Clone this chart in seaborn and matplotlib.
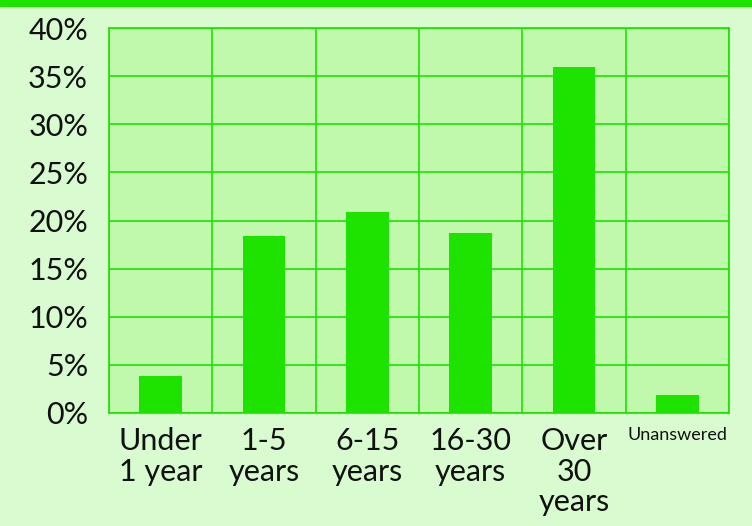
import matplotlib
matplotlib.use('Agg')
import matplotlib.pyplot as plt
import seaborn as sns
import pandas as pd
from matplotlib.patches import Rectangle

# Dados
categorias = ['Under\n1 year', '1-5\nyears', '6-15\nyears', '16-30\nyears', 'Over\n30\nyears', 'Unanswered']
valores = [3.8, 18.4, 20.9, 18.7, 35.9, 1.9]
yticks = [0, 5, 10, 15, 20, 25, 30, 35, 40]

df = pd.DataFrame({'cat': categorias, 'val': valores})

bg = '#d8fcd0'
area = '#c0f8ac'
verde = '#1ee200'

sns.set_style('white')
plt.rcParams['font.family'] = ['Lato', 'DejaVu Sans']

fig = plt.figure(figsize=(7.52, 5.26), dpi=100, facecolor=bg)
ax = fig.add_axes([109 / 752, 1 - 413 / 526, 620 / 752, 385 / 526])
ax.set_facecolor(area)

sns.barplot(data=df, x='cat', y='val', color=verde, width=0.41, saturation=1,
            linewidth=0, ax=ax, zorder=3)

ax.set_ylim(0, 40)
ax.set_xlim(-0.5, len(categorias) - 0.5)
ax.set_yticks(yticks)
ax.set_yticklabels([f'{v}%' for v in yticks], fontsize=22, color='#111111')
ax.set_xticks(range(len(categorias)))
ax.set_xticklabels(categorias, fontsize=22, color='#111111', linespacing=1.12, va='top')
ax.set_xticks([i - 0.5 for i in range(len(categorias) + 1)], minor=True)
ax.tick_params(axis='x', which='major', length=0, pad=10)
ax.tick_params(axis='x', which='minor', length=9, color=verde, width=1.2)
ax.tick_params(axis='y', length=8, color=verde, width=1.2, pad=7)
ax.get_xticklabels()[-1].set_fontsize(13)

ax.grid(axis='y', which='major', color=verde, linewidth=1.2, zorder=1)
ax.grid(axis='x', which='minor', color=verde, linewidth=1.2, zorder=1)
ax.grid(axis='x', which='major', visible=False)
ax.set_axisbelow(True)
for s in ax.spines.values():
    s.set_color(verde)
    s.set_linewidth(1.2)
ax.set_xlabel('')
ax.set_ylabel('')

fig.add_artist(Rectangle((0, 1 - 6 / 526), 1, 6 / 526, transform=fig.transFigure, color=verde))

fig.savefig('out.png', dpi=100, facecolor=bg)
